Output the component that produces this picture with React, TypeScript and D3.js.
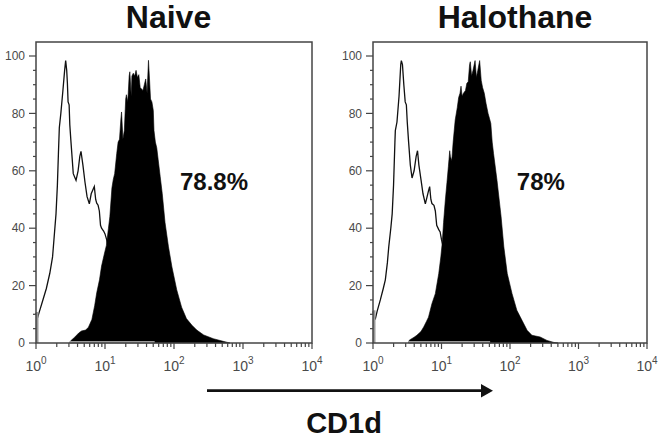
import React from 'react';
import * as d3 from 'd3';

// [decade exponent, % of max]
const naiveControl: [number, number][] = [
  [0, 10.5], [0.02, 8.6], [0.05, 11], [0.1, 15], [0.15, 19], [0.2, 24.3], [0.24, 30], [0.26, 36],
  [0.29, 45], [0.31, 55], [0.325, 66], [0.338, 75], [0.36, 80], [0.39, 88], [0.415, 95], [0.43, 98.4],
  [0.445, 95], [0.455, 90.5], [0.465, 84], [0.48, 83], [0.49, 76], [0.505, 70.7], [0.54, 59],
  [0.58, 56.7], [0.61, 60], [0.635, 65], [0.652, 66.8], [0.68, 62], [0.71, 56], [0.74, 51],
  [0.773, 48.5], [0.8, 52], [0.845, 54.5], [0.865, 50], [0.88, 48.7], [0.9, 48], [0.918, 46],
  [0.935, 41], [0.95, 40], [0.98, 39], [1.0, 38], [1.024, 36], [1.05, 33], [1.2, 24], [1.4, 12],
  [1.6, 3], [1.72, 0],
];

const naiveCD1d: [number, number][] = [
  [0.49, 0], [0.5, 0.7], [0.56, 2], [0.62, 3.5], [0.66, 4.2], [0.72, 4.5], [0.76, 5.5], [0.81, 8.2],
  [0.85, 13], [0.88, 17.5], [0.92, 22], [0.95, 26.8], [0.99, 31], [1.02, 34], [1.05, 40], [1.07, 44],
  [1.1, 54], [1.12, 57], [1.14, 59], [1.17, 66], [1.19, 70], [1.21, 71], [1.23, 78], [1.24, 80.5],
  [1.26, 71], [1.28, 74], [1.3, 85], [1.31, 86.5], [1.33, 84], [1.35, 93], [1.36, 94.5], [1.38, 86],
  [1.39, 93], [1.41, 94], [1.43, 93], [1.45, 95], [1.47, 92.5], [1.49, 93.5], [1.51, 89], [1.53, 88.5],
  [1.55, 88], [1.57, 90], [1.59, 92], [1.61, 87], [1.63, 98.5], [1.645, 92], [1.66, 85], [1.68, 84],
  [1.7, 81], [1.71, 74], [1.73, 70], [1.75, 68], [1.77, 64], [1.8, 58], [1.83, 52], [1.87, 42],
  [1.92, 33.5], [1.97, 26.5], [2.04, 18.5], [2.11, 12.5], [2.18, 8.5], [2.26, 6.2], [2.33, 4.5],
  [2.43, 2.8], [2.57, 1.5], [2.71, 0.6], [2.81, 0],
];

const halothaneControl: [number, number][] = [
  [0, 11], [0.015, 9], [0.035, 8.5], [0.06, 11], [0.107, 15], [0.15, 19], [0.18, 22], [0.21, 28],
  [0.23, 33.5], [0.26, 40], [0.28, 45], [0.3, 55], [0.32, 70], [0.326, 74], [0.35, 77], [0.38, 86],
  [0.405, 97], [0.414, 98.4], [0.43, 97], [0.45, 90], [0.47, 84], [0.487, 83], [0.5, 77], [0.52, 70],
  [0.545, 62], [0.57, 57.5], [0.6, 60], [0.63, 65], [0.65, 67], [0.67, 62], [0.7, 57], [0.73, 52],
  [0.764, 48.5], [0.79, 51], [0.81, 53], [0.827, 54.5], [0.845, 50], [0.86, 48.6], [0.89, 48],
  [0.91, 46], [0.93, 41], [0.96, 39.5], [0.98, 38.7], [1.0, 36], [1.03, 33], [1.2, 24], [1.4, 12],
  [1.6, 3], [1.72, 0],
];

const halothaneCD1d: [number, number][] = [
  [0.52, 0], [0.53, 1], [0.6, 2], [0.64, 2.7], [0.7, 4], [0.74, 5.6], [0.78, 7.5], [0.81, 9],
  [0.86, 13.7], [0.91, 17.2], [0.96, 24.2], [0.99, 30], [1.01, 34.7], [1.03, 42], [1.056, 49.8],
  [1.08, 56], [1.1, 61.4], [1.12, 67], [1.13, 65], [1.15, 63.5], [1.17, 70], [1.2, 77.7], [1.23, 82],
  [1.25, 85.5], [1.27, 87], [1.285, 89.5], [1.3, 86], [1.32, 87], [1.35, 88], [1.37, 90.5], [1.39, 91],
  [1.41, 97], [1.42, 98], [1.44, 93], [1.46, 95], [1.49, 98.4], [1.51, 92.5], [1.53, 95], [1.557, 98.4],
  [1.58, 91.5], [1.6, 89], [1.625, 87], [1.65, 83.5], [1.68, 80], [1.7, 78.3], [1.72, 76.5], [1.74, 70],
  [1.76, 66], [1.81, 56.7], [1.87, 44], [1.91, 33.5], [1.96, 24.2], [2.03, 17.2], [2.1, 11.4],
  [2.175, 7.9], [2.25, 4.4], [2.32, 2.7], [2.44, 2.1], [2.54, 0.9], [2.64, 0.2], [2.7, 0],
];

const titles = ['Naive', 'Halothane'];
const percents = ['78.8%', '78%'];
const percentPos: [number, number][] = [[2.58, 53.3], [2.45, 53.3]];
// first-channel pile-up and the grey stretch on the baseline
const firstBin = [10.8, 11.4];
const greyBase: [number, number][] = [[0.49, 1.72], [0.52, 1.71]];
const yTicks = [0, 20, 40, 60, 80, 100];
const decades = [0, 1, 2, 3, 4];

const controls = [naiveControl, halothaneControl];
const stained = [naiveCD1d, halothaneCD1d];

const FONT = "'Liberation Sans', Arial, Helvetica, sans-serif";
const panelX: [number, number][] = [[36, 312], [373, 647]];
const titleX = [168.5, 515];
const TOP = 42;
const Y0 = 343;
const Y100 = 56;

function Panel({ i }: { i: number }) {
  const [l, r] = panelX[i];
  const x = d3.scaleLog().domain([1, 1e4]).range([l, r]);
  const y = d3.scaleLinear().domain([0, 100]).range([Y0, Y100]);
  const px = (d: [number, number]) => x(Math.pow(10, d[0]));

  const line = d3.line<[number, number]>().x(px).y((d) => y(d[1]));
  const area = d3.area<[number, number]>().x(px).y0(y(0)).y1((d) => y(d[1]));

  const minorY = d3.range(0, 101, 5).filter((v) => v % 20 !== 0);
  const minorX: number[] = [];
  for (let k = 0; k < 4; k++) for (let m = 2; m < 10; m++) minorX.push(m * Math.pow(10, k));

  return (
    <g>
      <text x={titleX[i]} y={28} textAnchor="middle" fontFamily={FONT} fontWeight="bold" fontSize={32} fill="#111">
        {titles[i]}
      </text>

      {/* histograms */}
      <path d={line(controls[i]) ?? ''} fill="none" stroke="#111" strokeWidth={1.3} />
      <path d={area(stained[i]) ?? ''} fill="#000" stroke="#000" strokeWidth={0.6} />
      <line x1={x(Math.pow(10, greyBase[i][0]))} x2={x(Math.pow(10, greyBase[i][1]))} y1={y(0) - 1} y2={y(0) - 1} stroke="#999" strokeWidth={2} />
      <rect x={l} y={y(firstBin[i])} width={2.5} height={y(0) - y(firstBin[i])} fill="#9a9a9a" />

      {/* frame */}
      <rect x={l} y={TOP} width={r - l} height={Y0 - TOP} fill="none" stroke="#444" strokeWidth={1.5} />

      {/* y axis */}
      {yTicks.map((t) => (
        <g key={t}>
          <line x1={l - 7} x2={l} y1={y(t)} y2={y(t)} stroke="#444" strokeWidth={1.2} />
          <text x={l - 11} y={y(t)} dy="0.35em" textAnchor="end" fontFamily={FONT} fontSize={12} fill="#4a4a4a">
            {t}
          </text>
        </g>
      ))}
      {minorY.map((t) => (
        <line key={'m' + t} x1={l - 3} x2={l} y1={y(t)} y2={y(t)} stroke="#444" strokeWidth={1.2} />
      ))}

      {/* x axis */}
      {decades.map((e) => (
        <g key={e}>
          <line x1={x(Math.pow(10, e))} x2={x(Math.pow(10, e))} y1={Y0} y2={Y0 + 6} stroke="#444" strokeWidth={1.2} />
          <text x={x(Math.pow(10, e))} y={371} textAnchor="middle" fontFamily={FONT} fontSize={14} fill="#4a4a4a">
            10
            <tspan fontSize={10} dy={-7}>{e}</tspan>
          </text>
        </g>
      ))}
      {minorX.map((v) => (
        <line key={'x' + v} x1={x(v)} x2={x(v)} y1={Y0} y2={Y0 + 4} stroke="#444" strokeWidth={1.2} />
      ))}

      <text
        x={x(Math.pow(10, percentPos[i][0]))}
        y={y(percentPos[i][1])}
        textAnchor="middle"
        fontFamily={FONT}
        fontWeight="bold"
        fontSize={24}
        fill="#111"
      >
        {percents[i]}
      </text>
    </g>
  );
}

export default function App() {
  return (
    <svg width={661} height={438} style={{ position: 'absolute', left: 0, top: 0, background: '#fff' }}>
      <rect width={661} height={438} fill="#fff" />
      <Panel i={0} />
      <Panel i={1} />
      {/* CD1d arrow */}
      <line x1={207} x2={483} y1={390.7} y2={390.7} stroke="#111" strokeWidth={2.8} />
      <path d="M481,384 L493,390.7 L481,397.4 Z" fill="#111" />
      <text x={344} y={433} textAnchor="middle" fontFamily={FONT} fontWeight="bold" fontSize={29} fill="#111">
        CD1d
      </text>
    </svg>
  );
}
